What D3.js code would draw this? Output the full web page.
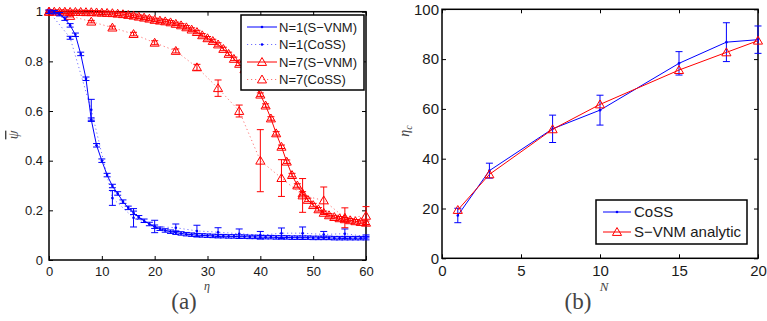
<!DOCTYPE html>
<html>
<head>
<meta charset="utf-8">
<script src="https://cdn.jsdelivr.net/npm/d3@7/dist/d3.min.js"></script>
<style>
  body { margin: 0; background: #fff; }
  svg text { font-family: "Liberation Sans", Arial, sans-serif; fill: #1a1a1a; }
  .lbl { font-family: "Liberation Serif", "DejaVu Serif", serif !important; fill: #444 !important; }
</style>
</head>
<body>
<svg id="chart" width="767" height="321"></svg>
<script>
// ---- panel (a) data: psi vs eta ----
const etaFine = [0,1,2,3,4,5,6,7,8,9,10,11,12,13,14,15,16,17,18,19,20,
  21,22,23,24,25,26,27,28,29,30,31,32,33,34,35,36,37,38,39,40,
  41,42,43,44,45,46,47,48,49,50,51,52,53,54,55,56,57,58,59,60];
const psiN1Svnm = [1.000,0.998,0.990,0.972,0.945,0.907,0.830,0.730,0.565,0.462,0.400,
  0.342,0.298,0.268,0.235,0.210,0.190,0.172,0.158,0.145,0.134,
  0.126,0.119,0.114,0.110,0.107,0.104,0.102,0.100,0.099,0.098,
  0.097,0.096,0.096,0.095,0.095,0.094,0.094,0.093,0.093,0.092,
  0.092,0.092,0.091,0.091,0.091,0.090,0.090,0.090,0.090,0.089,
  0.089,0.089,0.089,0.088,0.088,0.088,0.088,0.088,0.088,0.088];
const psiN7Svnm = [1.000,1.000,1.000,1.000,0.999,0.999,0.999,0.998,0.998,0.997,0.996,
  0.995,0.994,0.992,0.990,0.987,0.984,0.980,0.976,0.972,0.967,
  0.964,0.961,0.957,0.951,0.945,0.937,0.928,0.918,0.905,0.893,
  0.882,0.868,0.850,0.830,0.810,0.790,0.768,0.740,0.705,0.666,
  0.622,0.570,0.510,0.456,0.396,0.342,0.300,0.268,0.242,0.221,
  0.204,0.190,0.180,0.173,0.168,0.164,0.160,0.156,0.153,0.150];
const svnmErr = 0.007;

const etaCoss = [0,4,8,12,16,20,24,28,32,36,40,44,48,52,56,60];
const psiN1Coss = [1.0,0.895,0.605,0.250,0.170,0.135,0.130,0.117,0.112,0.106,0.100,0.108,0.108,0.103,0.106,0.095];
const errN1Coss = [0.003,0.006,0.042,0.030,0.037,0.025,0.015,0.023,0.018,0.019,0.015,0.021,0.025,0.012,0.019,0.006];
const psiN7Coss = [1.0,0.983,0.960,0.936,0.910,0.875,0.842,0.776,0.692,0.600,0.400,0.330,0.260,0.240,0.170,0.178];
const errN7Coss = [0.003,0.004,0.005,0.006,0.007,0.008,0.008,0.012,0.033,0.024,0.125,0.074,0.068,0.054,0.040,0.037];

const ticksA_x = [0,10,20,30,40,50,60];
const ticksA_y = [0,0.2,0.4,0.6,0.8,1];
const legendA = ["N=1(S\u2212VNM)", "N=1(CoSS)", "N=7(S\u2212VNM)", "N=7(CoSS)"];

// ---- panel (b) data: eta_c vs N ----
const nVals = [1,3,7,10,15,18,20];
const etacCoss = [17.2,35.2,52.0,59.5,78.3,86.8,87.8];
const etacCossErr = [2.9,3.0,5.5,6.0,4.7,7.8,5.5];
const etacSvnm = [19.4,33.7,51.8,61.8,75.6,82.7,87.4];

const ticksB_x = [0,5,10,15,20];
const ticksB_y = [0,20,40,60,80,100];
const legendB = ["CoSS", "S\u2212VNM analytic"];

const BLUE = "#0000ff", RED = "#ff0000";
const svg = d3.select("#chart");
const tri = d3.symbol().type(d3.symbolTriangle).size(36);

function makePanel(box, xDom, yDom, xTicks, yTicks, fs, yPad) {
    const x = d3.scaleLinear().domain(xDom).range([box.left, box.right]);
    const y = d3.scaleLinear().domain(yDom).range([box.bottom, box.top]);
    const g = svg.append("g");
    const fmt = d => String(d);

    // ticks on all four sides, pointing inward (matlab box on)
    const axes = [
        [d3.axisBottom(x).tickValues(xTicks).tickFormat(fmt).tickPadding(7), `translate(0,${box.bottom})`, true],
        [d3.axisTop(x).tickValues(xTicks).tickPadding(7), `translate(0,${box.top})`, false],
        [d3.axisLeft(y).tickValues(yTicks).tickFormat(fmt).tickPadding(yPad), `translate(${box.left},0)`, true],
        [d3.axisRight(y).tickValues(yTicks).tickPadding(7), `translate(${box.right},0)`, false]
    ];
    axes.forEach(([ax, tr, showText]) => {
        const a = g.append("g").attr("transform", tr)
            .call(ax.tickSizeInner(-4).tickSizeOuter(0));
        a.select(".domain").remove();
        a.selectAll("line").attr("stroke", "#000").attr("stroke-width", 1);
        a.selectAll("text").style("font-size", fs + "px")
            .style("font-family", "Liberation Sans, Arial, sans-serif").attr("fill", "#1a1a1a");
        if (!showText) a.selectAll("text").remove();
    });

    g.append("rect")
        .attr("x", box.left).attr("y", box.top)
        .attr("width", box.right - box.left).attr("height", box.bottom - box.top)
        .attr("fill", "none").attr("stroke", "#000").attr("stroke-width", 1.5);
    return { g, x, y };
}

function drawSeries(p, xs, ys, errs, opt) {
    const pts = xs.map((d, i) => ({ x: d, y: ys[i], e: errs ? errs[i] : 0 }));
    const layer = p.g.append("g");

    layer.append("path").datum(pts)
        .attr("d", d3.line().x(d => p.x(d.x)).y(d => p.y(d.y)))
        .attr("fill", "none")
        .attr("stroke", opt.color)
        .attr("stroke-width", 1)
        .attr("stroke-opacity", opt.dash ? 0.55 : 1)
        .attr("stroke-dasharray", opt.dash || null);

    if (errs) {
        const cap = opt.cap || 3.5;
        const eb = layer.selectAll(".eb").data(pts).join("g").attr("class", "eb")
            .attr("stroke", opt.color).attr("stroke-width", 1);
        eb.append("line")
            .attr("x1", d => p.x(d.x)).attr("x2", d => p.x(d.x))
            .attr("y1", d => p.y(d.y - d.e)).attr("y2", d => p.y(d.y + d.e));
        [-1, 1].forEach(s => {
            eb.append("line")
                .attr("x1", d => p.x(d.x) - cap).attr("x2", d => p.x(d.x) + cap)
                .attr("y1", d => p.y(d.y + s * d.e)).attr("y2", d => p.y(d.y + s * d.e));
        });
    }

    if (opt.marker === "tri") {
        layer.selectAll(".mk").data(pts).join("path")
            .attr("transform", d => `translate(${p.x(d.x)},${p.y(d.y) + 0.8})`)
            .attr("d", tri).attr("fill", "none").attr("stroke", opt.color).attr("stroke-width", 1);
    } else {
        layer.selectAll(".mk").data(pts).join("circle")
            .attr("cx", d => p.x(d.x)).attr("cy", d => p.y(d.y)).attr("r", 1.3)
            .attr("fill", opt.color);
    }
}

function drawLegend(p, box, labels, styles, fs) {
    const lg = p.g.append("g");
    lg.append("rect")
        .attr("x", box.x).attr("y", box.y).attr("width", box.w).attr("height", box.h)
        .attr("fill", "#fff").attr("stroke", "#000").attr("stroke-width", 1.5);
    labels.forEach((txt, i) => {
        const yy = box.y + box.first + i * box.step;
        const st = styles[i];
        lg.append("line")
            .attr("x1", box.x + box.lx0).attr("x2", box.x + box.lx1)
            .attr("y1", yy).attr("y2", yy)
            .attr("stroke", st.color).attr("stroke-width", 1)
            .attr("stroke-opacity", st.dash ? 0.55 : 1)
            .attr("stroke-dasharray", st.dash || null);
        const mx = box.x + (box.lx0 + box.lx1) / 2;
        if (st.marker === "tri") {
            lg.append("path").attr("transform", `translate(${mx},${yy + 0.8})`)
                .attr("d", tri).attr("fill", "none").attr("stroke", st.color);
        } else {
            lg.append("circle").attr("cx", mx).attr("cy", yy).attr("r", 1.3).attr("fill", st.color);
        }
        lg.append("text")
            .attr("x", box.x + box.tx).attr("y", yy).attr("dy", "0.36em")
            .style("font-size", fs + "px").text(txt);
    });
}

// ---- panel (a) ----
const pa = makePanel({ left: 49, right: 366, top: 11.7, bottom: 260 }, [0, 60], [0, 1], ticksA_x, ticksA_y, 13, 6);
const stA = [
    { color: BLUE, marker: "dot" },
    { color: BLUE, marker: "dot", dash: "1.2,2.8" },
    { color: RED, marker: "tri" },
    { color: RED, marker: "tri", dash: "1.2,2.8" }
];
drawSeries(pa, etaCoss, psiN1Coss, errN1Coss, stA[1]);
drawSeries(pa, etaCoss, psiN7Coss, errN7Coss, stA[3]);
drawSeries(pa, etaFine, psiN7Svnm, etaFine.map(() => svnmErr), stA[2]);
drawSeries(pa, etaFine, psiN1Svnm, etaFine.map(() => svnmErr), stA[0]);
drawLegend(pa, { x: 241, y: 15, w: 123, h: 75, first: 12, step: 17.5, lx0: 6, lx1: 36, tx: 38 }, legendA, stA, 13);

// ---- panel (b) ----
const pb = makePanel({ left: 442, right: 758, top: 9.3, bottom: 258.3 }, [0, 20], [0, 100], ticksB_x, ticksB_y, 15, 3);
const stB = [{ color: BLUE, marker: "dot" }, { color: RED, marker: "tri" }];
drawSeries(pb, nVals, etacCoss, etacCossErr, stB[0]);
drawSeries(pb, nVals, etacSvnm, null, stB[1]);
drawLegend(pb, { x: 596, y: 200, w: 151, h: 44, first: 12, step: 20, lx0: 7, lx1: 35, tx: 38 }, legendB, stB, 15);

// ---- labels ----
svg.append("text").attr("class", "lbl").attr("x", 207).attr("y", 290)
    .attr("text-anchor", "middle").style("font-size", "12px").style("font-style", "italic").text("\u03b7");
svg.append("text").attr("class", "lbl").attr("x", 604).attr("y", 291)
    .attr("text-anchor", "middle").style("font-size", "13px").style("font-style", "italic").text("N");

svg.append("text").attr("class", "lbl")
    .attr("transform", "translate(18,135) rotate(-90)")
    .attr("text-anchor", "middle").style("font-size", "14px").style("font-style", "italic")
    .style("text-decoration", "overline").text("\u03c8");

const etac = svg.append("text").attr("class", "lbl")
    .attr("transform", "translate(409,131) rotate(-90)")
    .attr("text-anchor", "middle").style("font-size", "14px").style("font-style", "italic");
etac.append("tspan").text("\u03b7");
etac.append("tspan").attr("dy", 3).style("font-size", "10px").text("c");

svg.append("text").attr("class", "lbl").attr("x", 184).attr("y", 309)
    .attr("text-anchor", "middle").style("font-size", "23px").style("fill", "#222").text("(a)");
svg.append("text").attr("class", "lbl").attr("x", 578).attr("y", 309)
    .attr("text-anchor", "middle").style("font-size", "23px").style("fill", "#222").text("(b)");
</script>
</body>
</html>
